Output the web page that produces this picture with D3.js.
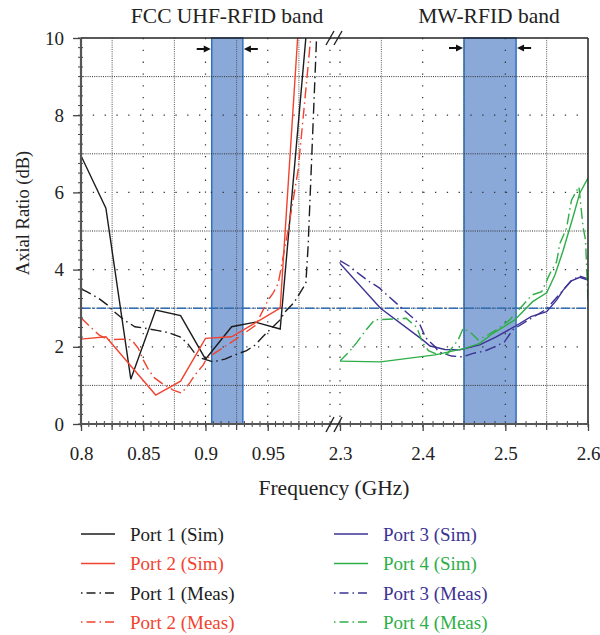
<!DOCTYPE html>
<html>
<head>
<meta charset="utf-8">
<script src="https://cdn.jsdelivr.net/npm/d3@7"></script>
<style>
  body { margin: 0; background: #fff; }
  svg text { font-family: "Liberation Serif", "Times New Roman", Times, "DejaVu Serif", serif; }
</style>
</head>
<body>
<div id="chart"></div>
<script>
// ---- data ----
var uhfBand = [0.905, 0.93];      // GHz
var mwBand = [2.45, 2.513];       // GHz
var arLimit = 3;                  // dB
var lowTicks = [0.8, 0.85, 0.9, 0.95];
var highTicks = [2.3, 2.4, 2.5, 2.6];
var yTicks = [0, 2, 4, 6, 8, 10];

var port1Sim = [[0.8, 6.95], [0.82, 5.59], [0.84, 1.16], [0.86, 2.95], [0.88, 2.81],
                [0.9, 1.68], [0.921, 2.52], [0.94, 2.64], [0.96, 2.46], [0.9806, 10.0]];
var port2Sim = [[0.8, 2.2], [0.82, 2.26], [0.86, 0.75], [0.88, 1.11], [0.9, 2.22],
                [0.921, 2.26], [0.94, 2.62], [0.96, 3.0], [0.974, 10.0]];
var port1Meas = [[0.8, 3.5], [0.8046, 3.43], [0.8139, 3.26], [0.8206, 3.1], [0.8267, 2.91],
                 [0.8348, 2.69], [0.8433, 2.52], [0.8514, 2.48], [0.862, 2.42], [0.87, 2.37],
                 [0.8795, 2.26], [0.886, 2.07], [0.891, 1.85], [0.8969, 1.7], [0.906, 1.61],
                 [0.9156, 1.68], [0.9236, 1.79], [0.933, 1.9], [0.94, 2.05], [0.946, 2.26],
                 [0.953, 2.48], [0.9597, 2.69], [0.964, 2.91], [0.971, 3.14], [0.9758, 3.39],
                 [0.9806, 3.65], [0.9824, 4.59], [0.9892, 10.0]];
var port2Meas = [[0.8, 2.75], [0.8086, 2.48], [0.8144, 2.31], [0.8219, 2.18], [0.834, 2.2],
                 [0.8407, 2.18], [0.846, 1.96], [0.85, 1.66], [0.854, 1.42], [0.8588, 1.2],
                 [0.8669, 1.01], [0.8741, 0.88], [0.8808, 0.8], [0.8875, 1.07], [0.8915, 1.27],
                 [0.8982, 1.53], [0.9009, 1.7], [0.92, 2.1], [0.94, 2.55], [0.9503, 3.21],
                 [0.9543, 3.39], [0.9584, 3.64], [0.9664, 5.03], [0.9744, 6.58], [0.9811, 8.83],
                 [0.9845, 10.0]];
var port3Sim = [[2.3, 4.16], [2.349, 3.0], [2.4, 2.18], [2.409, 2.02], [2.427, 1.93],
                [2.445, 1.92], [2.469, 2.05], [2.489, 2.26], [2.511, 2.52], [2.531, 2.78],
                [2.55, 2.91], [2.562, 3.21], [2.57, 3.47], [2.58, 3.71], [2.59, 3.8], [2.6, 3.73]];
var port4Sim = [[2.3, 1.63], [2.349, 1.61], [2.415, 1.79], [2.451, 1.96], [2.469, 2.09],
                [2.485, 2.35], [2.511, 2.69], [2.533, 3.17], [2.55, 3.4], [2.56, 3.86],
                [2.57, 4.5], [2.582, 5.37], [2.59, 5.98], [2.6, 6.37]];
var port3Meas = [[2.3, 4.23], [2.312, 4.08], [2.323, 3.89], [2.334, 3.71], [2.348, 3.52],
                 [2.357, 3.34], [2.366, 3.17], [2.378, 2.94], [2.388, 2.75], [2.397, 2.56],
                 [2.4035, 2.24], [2.415, 2.0], [2.419, 1.87], [2.435, 1.76], [2.448, 1.74],
                 [2.461, 1.83], [2.475, 1.89], [2.487, 2.0], [2.499, 2.13], [2.509, 2.44],
                 [2.53, 2.72], [2.55, 2.98], [2.565, 3.35], [2.58, 3.72], [2.59, 3.83], [2.6, 3.76]];
var port4Meas = [[2.3, 1.63], [2.311, 1.87], [2.32, 2.1], [2.33, 2.4], [2.342, 2.7],
                 [2.365, 2.72], [2.38, 2.74], [2.393, 2.5], [2.4, 2.1], [2.407, 1.9],
                 [2.418, 1.8], [2.43, 1.82], [2.443, 2.18], [2.449, 2.48], [2.459, 2.35],
                 [2.467, 2.18], [2.479, 2.31], [2.489, 2.44], [2.505, 2.69], [2.532, 3.34],
                 [2.544, 3.43], [2.554, 3.9], [2.562, 4.2], [2.566, 4.68], [2.574, 5.07],
                 [2.58, 5.8], [2.589, 6.15], [2.594, 5.11], [2.597, 4.77], [2.6, 3.2]];

var black = "#1c1c1c", red = "#f2432f", indigo = "#3b3294", green = "#2fae48";
var measDash = "11,4,1.5,4";
var serifFont = "'Liberation Serif', 'Times New Roman', Times, 'DejaVu Serif', serif";

var series = [
  {name: "Port 1 (Sim)",  data: port1Sim,  color: black,  dash: null,     seg: "low"},
  {name: "Port 2 (Sim)",  data: port2Sim,  color: red,    dash: null,     seg: "low"},
  {name: "Port 1 (Meas)", data: port1Meas, color: black,  dash: measDash, seg: "low"},
  {name: "Port 2 (Meas)", data: port2Meas, color: red,    dash: measDash, seg: "low"},
  {name: "Port 3 (Sim)",  data: port3Sim,  color: indigo, dash: null,     seg: "high"},
  {name: "Port 4 (Sim)",  data: port4Sim,  color: green,  dash: null,     seg: "high"},
  {name: "Port 3 (Meas)", data: port3Meas, color: indigo, dash: measDash, seg: "high"},
  {name: "Port 4 (Meas)", data: port4Meas, color: green,  dash: measDash, seg: "high"}
];

// ---- layout ----
var pLeft = 81, pRight = 588, pTop = 38, pBottom = 424;

var svg = d3.select("#chart")
            .append("svg")
            .attr("width", 600)
            .attr("height", 635)
            .attr("font-family", serifFont);

var xLow = d3.scaleLinear().domain([0.8, 1.0]).range([pLeft, 330]);
var xHigh = d3.scaleLinear().domain([2.3, 2.6]).range([340, pRight]);
var y = d3.scaleLinear().domain([0, 10]).range([pBottom, pTop]);

var defs = svg.append("defs");
defs.append("clipPath").attr("id", "clipLow")
    .append("rect").attr("x", pLeft).attr("y", pTop).attr("width", 330 - pLeft).attr("height", pBottom - pTop);
defs.append("clipPath").attr("id", "clipHigh")
    .append("rect").attr("x", 340).attr("y", pTop).attr("width", pRight - 340).attr("height", pBottom - pTop);

// bands
[[uhfBand, xLow], [mwBand, xHigh]].forEach(function(b) {
    svg.append("rect")
        .attr("x", b[1](b[0][0]))
        .attr("y", pTop)
        .attr("width", b[1](b[0][1]) - b[1](b[0][0]))
        .attr("height", pBottom - pTop)
        .attr("fill", "#8aa8d8")
        .attr("stroke", "#2f72c0")
        .attr("stroke-width", 1.5);
});

// grid
var grid = svg.append("g");
var ySparse = yTicks.filter(d => d > 0 && d < 10);
var yDense = ySparse.map(d => d - 1).concat([9]).filter(d => d > 0);
grid.selectAll(".hs").data(ySparse).join("line")
    .attr("x1", pLeft).attr("x2", pRight)
    .attr("y1", d => y(d)).attr("y2", d => y(d))
    .attr("stroke", "#333").attr("stroke-width", 1.2).attr("stroke-dasharray", "1.3,10.5");
grid.selectAll(".hd").data(yDense).join("line")
    .attr("x1", pLeft).attr("x2", pRight)
    .attr("y1", d => y(d)).attr("y2", d => y(d))
    .attr("stroke", "#333").attr("stroke-width", 1).attr("stroke-dasharray", "1,1.2");

var vSparse = lowTicks.slice(1).concat([1.0]).map(d => xLow(d))
    .concat(highTicks.slice(0, 3).map(d => xHigh(d)));
var vDense = lowTicks.map(d => xLow(d + 0.025))
    .concat(highTicks.slice(0, 3).map(d => xHigh(d + 0.05)));
grid.selectAll(".vs").data(vSparse).join("line")
    .attr("x1", d => d).attr("x2", d => d)
    .attr("y1", pTop).attr("y2", pBottom)
    .attr("stroke", "#333").attr("stroke-width", 1.2).attr("stroke-dasharray", "1.3,10.5");
grid.selectAll(".vd").data(vDense).join("line")
    .attr("x1", d => d).attr("x2", d => d)
    .attr("y1", pTop).attr("y2", pBottom)
    .attr("stroke", "#555").attr("stroke-width", 1).attr("stroke-dasharray", "1,1.2");

// 3 dB limit
svg.append("line")
    .attr("x1", pLeft).attr("x2", pRight)
    .attr("y1", y(arLimit)).attr("y2", y(arLimit))
    .attr("stroke", "#2f6fb8").attr("stroke-width", 1.5)
    .attr("stroke-dasharray", "9,2.5,2,2.5");

// curves
series.forEach(function(s) {
    var xs = s.seg == "low" ? xLow : xHigh;
    var line = d3.line().x(d => xs(d[0])).y(d => y(d[1]));
    svg.append("path")
        .datum(s.data)
        .attr("clip-path", s.seg == "low" ? "url(#clipLow)" : "url(#clipHigh)")
        .attr("d", line)
        .attr("fill", "none")
        .attr("stroke", s.color)
        .attr("stroke-width", 1.4)
        .attr("stroke-dasharray", s.dash);
});

// frame
svg.append("line").attr("x1", pLeft).attr("x2", pRight).attr("y1", pTop).attr("y2", pTop)
    .attr("stroke", "#222").attr("stroke-width", 1.5);
svg.append("line").attr("x1", pRight).attr("x2", pRight).attr("y1", pTop).attr("y2", pBottom)
    .attr("stroke", "#222").attr("stroke-width", 1.5);

// axes
var xAxisLow = svg.append("g")
    .attr("transform", "translate(0," + pBottom + ")")
    .call(d3.axisBottom(xLow).tickValues(lowTicks).tickSize(7).tickPadding(16).tickFormat(d3.format("")));
var xAxisHigh = svg.append("g")
    .attr("transform", "translate(0," + pBottom + ")")
    .call(d3.axisBottom(xHigh).tickValues(highTicks).tickSize(7).tickPadding(16).tickFormat(d3.format("")));
var yAxis = svg.append("g")
    .attr("transform", "translate(" + pLeft + ",0)")
    .call(d3.axisLeft(y).tickValues(yTicks).tickSize(8).tickPadding(9));

[xAxisLow, xAxisHigh, yAxis].forEach(function(a) {
    a.attr("font-family", serifFont).attr("font-size", 19);
    a.select(".domain").remove();
    a.selectAll(".tick line").attr("stroke", "#444").attr("stroke-width", 1.3);
    a.selectAll("text").attr("fill", "#222");
});

// minor ticks
var minorLow = d3.range(0, 33).map(i => 0.8 + i * 0.00625);
var minorHigh = d3.range(0, 25).map(i => 2.3 + i * 0.0125);
var minorY = d3.range(0, 41).map(i => i * 0.25);
svg.append("g").selectAll("line")
    .data(minorLow.map(d => xLow(d)).concat(minorHigh.map(d => xHigh(d))))
    .join("line")
    .attr("x1", d => d).attr("x2", d => d)
    .attr("y1", pBottom - 3).attr("y2", pBottom + 3)
    .attr("stroke", "#444").attr("stroke-width", 1);
svg.append("g").selectAll("line")
    .data(lowTicks.map(d => xLow(d + 0.025)).concat(highTicks.slice(0, 3).map(d => xHigh(d + 0.05))))
    .join("line")
    .attr("x1", d => d).attr("x2", d => d)
    .attr("y1", pBottom).attr("y2", pBottom + 6)
    .attr("stroke", "#444").attr("stroke-width", 1.2);
svg.append("g").selectAll("line")
    .data(minorY)
    .join("line")
    .attr("x1", pLeft - 3).attr("x2", pLeft + 2)
    .attr("y1", d => y(d)).attr("y2", d => y(d))
    .attr("stroke", "#444").attr("stroke-width", 1);

// axis lines
svg.append("line").attr("x1", pLeft).attr("x2", pLeft).attr("y1", pTop).attr("y2", pBottom)
    .attr("stroke", "#555").attr("stroke-width", 2.2);
svg.append("line").attr("x1", pLeft).attr("x2", pRight).attr("y1", pBottom).attr("y2", pBottom)
    .attr("stroke", "#555").attr("stroke-width", 2.2);

// break marks
[[pTop + 7, pTop - 7], [pBottom + 8, pBottom - 7]].forEach(function(b) {
    [326, 334].forEach(function(x0) {
        svg.append("line")
            .attr("x1", x0).attr("y1", b[0])
            .attr("x2", x0 + 8).attr("y2", b[1])
            .attr("stroke", "#222").attr("stroke-width", 1.4);
    });
});

// band arrows
function arrow(xTip, yPos, dir) {
    var tail = xTip - dir * 14;
    svg.append("line")
        .attr("x1", tail).attr("x2", xTip - dir * 5)
        .attr("y1", yPos).attr("y2", yPos)
        .attr("stroke", "#111").attr("stroke-width", 2);
    svg.append("path")
        .attr("d", "M" + xTip + "," + yPos + "L" + (xTip - dir * 7) + "," + (yPos - 3.5) +
                   "L" + (xTip - dir * 7) + "," + (yPos + 3.5) + "Z")
        .attr("fill", "#111");
}
arrow(xLow(uhfBand[0]) - 1, 49, 1);
arrow(xLow(uhfBand[1]) + 1, 49, -1);
arrow(xHigh(mwBand[0]) - 1, 48, 1);
arrow(xHigh(mwBand[1]) + 1, 48, -1);

// band titles
svg.append("text").attr("x", 227).attr("y", 23).attr("text-anchor", "middle")
    .attr("font-size", 21.5).attr("fill", "#222").text("FCC UHF-RFID band");
svg.append("text").attr("x", 489).attr("y", 23).attr("text-anchor", "middle")
    .attr("font-size", 21.5).attr("fill", "#222").text("MW-RFID band");

// axis titles
svg.append("text").attr("x", 334).attr("y", 495).attr("text-anchor", "middle")
    .attr("font-size", 21.5).attr("fill", "#222").text("Frequency (GHz)");
svg.append("text")
    .attr("transform", "translate(29,213)rotate(-90)")
    .attr("text-anchor", "middle")
    .attr("font-size", 18.5).attr("fill", "#222").text("Axial Ratio (dB)");

// legend
var legend = svg.append("g");
var legRows = [534, 563.5, 593, 622];
series.forEach(function(s, i) {
    var col = i < 4 ? 0 : 1;
    var row = i % 4;
    var lx = col == 0 ? 81 : 334;
    var yy = legRows[row];
    legend.append("line")
        .attr("x1", lx).attr("x2", lx + 34)
        .attr("y1", yy).attr("y2", yy)
        .attr("stroke", s.color).attr("stroke-width", 1.4)
        .attr("stroke-dasharray", s.dash ? "1.5,4,9,4" : null);
    legend.append("text")
        .attr("x", lx + 49).attr("y", yy + 6.5)
        .attr("font-size", 19)
        .attr("fill", s.color)
        .text(s.name);
});
</script>
</body>
</html>
